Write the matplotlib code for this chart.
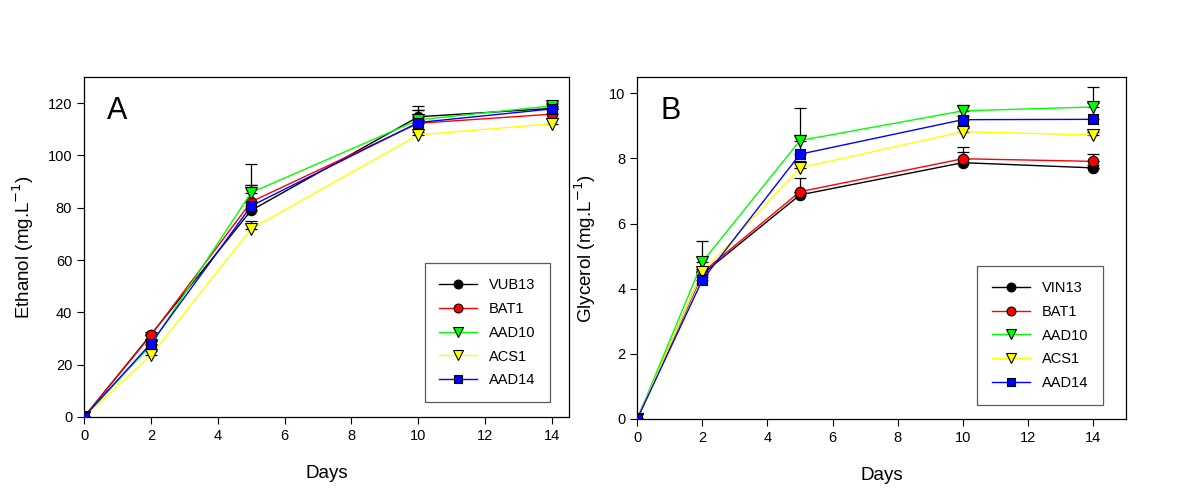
import matplotlib
matplotlib.use("Agg")
import matplotlib.pyplot as plt
import numpy as np

plt.rcParams['font.family'] = ['Liberation Sans', 'DejaVu Sans']

days = [0, 2, 5, 10, 14]

# Panel A: ethanol
eth_names = ["VUB13", "BAT1", "AAD10", "ACS1", "AAD14"]
eth_vals = {
    "VUB13": [0, 31.5, 79.0, 114.8, 118.0],
    "BAT1":  [0, 31.2, 82.3, 112.3, 115.8],
    "AAD10": [0, 27.5, 85.8, 113.6, 119.0],
    "ACS1":  [0, 23.6, 71.9, 107.9, 112.1],
    "AAD14": [0, 28.1, 80.7, 112.6, 117.8],
}
eth_err = {
    "VUB13": [0, 1.0, 9.7, 4.0, 1.5],
    "BAT1":  [0, 1.0, 6.4, 4.9, 2.0],
    "AAD10": [0, 1.5, 10.8, 3.6, 1.0],
    "ACS1":  [0, 1.5, 3.1, 1.0, 2.2],
    "AAD14": [0, 1.0, 1.5, 1.0, 1.0],
}

# Panel B: glycerol
gly_names = ["VIN13", "BAT1", "AAD10", "ACS1", "AAD14"]
gly_vals = {
    "VIN13": [0, 4.45, 6.88, 7.87, 7.71],
    "BAT1":  [0, 4.50, 6.98, 7.99, 7.91],
    "AAD10": [0, 4.82, 8.55, 9.46, 9.58],
    "ACS1":  [0, 4.50, 7.71, 8.82, 8.72],
    "AAD14": [0, 4.27, 8.13, 9.19, 9.20],
}
gly_err = {
    "VIN13": [0, 0.10, 0.10, 0.34, 0.10],
    "BAT1":  [0, 0.10, 0.41, 0.37, 0.22],
    "AAD10": [0, 0.63, 1.01, 0.19, 0.60],
    "ACS1":  [0, 0.10, 0.20, 0.10, 0.10],
    "AAD14": [0, 0.10, 0.60, 0.10, 0.49],
}

colors = ["#000000", "#ff0000", "#00ff00", "#ffff00", "#0000ff"]
markers = ["o", "o", "v", "v", "s"]
msizes = {"o": 7.5, "v": 8.5, "s": 6.5}

fig = plt.figure(figsize=(12, 5), dpi=100)
axA = fig.add_axes([0.070, 0.166, 0.404, 0.680])
axB = fig.add_axes([0.531, 0.162, 0.407, 0.684])


def draw(ax, names, vals, errs, ylim, yticks, ylabel, letter, xlim, legend_anchor):
    for i, n in enumerate(names):
        v = np.array(vals[n])
        e = np.array(errs[n])
        ax.errorbar(days, v, yerr=[np.zeros_like(e), e], fmt='none',
                    ecolor='black', elinewidth=0.9, capsize=4.5, capthick=0.9,
                    zorder=2)
    for i, n in enumerate(names):
        ax.plot(days, vals[n], color=colors[i], lw=1.0, marker=markers[i],
                markersize=msizes[markers[i]],
                markerfacecolor=colors[i], markeredgecolor='black',
                markeredgewidth=0.8, label=n, zorder=3 + i)
    ax.set_xlim(*xlim)
    ax.set_ylim(*ylim)
    ax.set_xticks([0, 2, 4, 6, 8, 10, 12, 14])
    ax.set_yticks(yticks)
    ax.tick_params(direction='out', length=5, width=0.8, labelsize=10.5)
    for s in ax.spines.values():
        s.set_linewidth(0.9)
    ax.set_xlabel("Days", fontsize=13.5, labelpad=16)
    ax.set_ylabel(ylabel, fontsize=13.5, labelpad=8)
    ax.text(0.047, 0.90, letter, transform=ax.transAxes, fontsize=22,
            va='center', ha='left')
    leg = ax.legend(loc='lower right', bbox_to_anchor=legend_anchor,
                    fontsize=10.5, frameon=True, fancybox=False,
                    edgecolor='#333333', labelspacing=0.68,
                    borderpad=1.0, handlelength=2.6, handletextpad=0.8,
                    borderaxespad=0, markerscale=0.85)
    leg.get_frame().set_linewidth(0.9)


draw(axA, eth_names, eth_vals, eth_err, (0, 130), [0, 20, 40, 60, 80, 100, 120],
     "Ethanol (mg.L$^{-1}$)", "A", (0, 14.5), (0.961, 0.044))
draw(axB, gly_names, gly_vals, gly_err, (0, 10.5), [0, 2, 4, 6, 8, 10],
     "Glycerol (mg.L$^{-1}$)", "B", (0, 15.0), (0.953, 0.041))

fig.savefig("out.png", dpi=100)
